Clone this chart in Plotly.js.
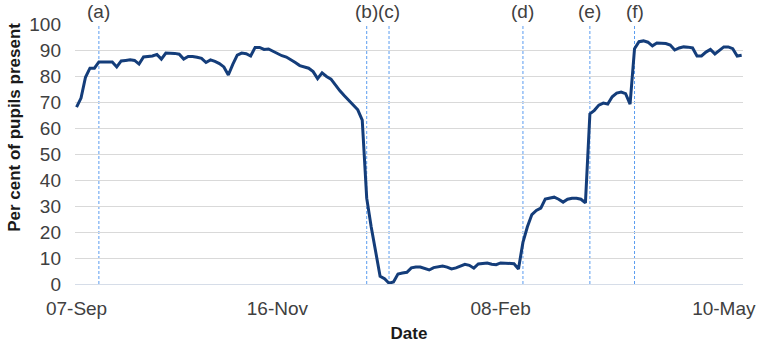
<!DOCTYPE html>
<html>
<head>
<meta charset="utf-8">
<script src="https://cdn.plot.ly/plotly-3.0.1.min.js"></script>
<style>html,body{margin:0;padding:0;background:#fff;}#chart{width:765px;height:348px;}</style>
</head>
<body>
<div id="chart"></div>
<script>
// Per cent of pupils present, one value per school day (index 0 = 07-Sep)
const attendance = [
  68, 71.5, 79.5, 83, 83, 85.4, 85.4, 85.4, 85.4, 83.5,
  85.8, 86, 86.2, 86, 84.6, 87.3, 87.5, 87.7, 88.3, 86.5,
  88.8, 88.8, 88.7, 88.4, 86.5, 87.5, 87.5, 87.2, 86.8, 85.2,
  86.2, 85.6, 84.8, 83.5, 80.4, 84.5, 88, 88.8, 88.6, 87.7,
  91, 91, 90.2, 90.4, 89.5, 88.5, 87.8, 87.3, 86.4, 85.2,
  84, 83.4, 83, 81.7, 79, 81.2, 79.8, 78.8, 76.5, 74.3,
  72.4, 70.5, 69, 67, 63, 33, 22, 12, 3, 2,
  0.3, 0.8, 3.8, 4.2, 4.5, 6.2, 6.5, 6.5, 6, 5.4,
  6.3, 6.7, 6.9, 6.5, 5.8, 6.2, 7, 7.6, 7.2, 6.1,
  7.7, 7.9, 8.1, 7.6, 7.4, 8.1, 8, 8.1, 7.8, 5.8,
  16, 22, 26.7, 28.3, 29.2, 32.7, 33, 33.4, 32.6, 31.5,
  32.6, 33, 33, 32.6, 31.2, 65.4, 66.8, 68.8, 69.6, 69.2,
  72, 73.4, 73.8, 73.2, 69.2, 90.5, 93.2, 93.5, 93, 91.6,
  92.7, 92.7, 92.5, 91.9, 90, 90.8, 91.2, 91.1, 90.8, 87.7,
  87.7, 89.2, 90.2, 88.5, 90, 91.2, 91.2, 90.5, 87.7, 88
];
const tickIndex = [0, 45, 95, 145];
const tickLabels = ['07-Sep', '16-Nov', '08-Feb', '10-May'];
const eventIndex = [5, 65, 70, 100, 115, 125];
const eventLabels = ['(a)', '(b)', '(c)', '(d)', '(e)', '(f)'];

const dayIndex = attendance.map((v, i) => i);

const font = 'Liberation Sans, Arial, sans-serif';
const shapes = eventIndex.map(x => ({
  type: 'line', xref: 'x', yref: 'y', x0: x, x1: x, y0: 0, y1: 100,
  line: {color: '#5a9cf0', width: 1, dash: '3px,2px'}, layer: 'below'
}));
const annotations = eventIndex.map((x, i) => ({
  x: x, y: 1, xref: 'x', yref: 'paper', yanchor: 'bottom', yshift: 0,
  text: eventLabels[i], showarrow: false,
  font: {family: font, size: 19, color: '#404040'}
}));
annotations.push({
  x: -0.09, y: 0.604, xref: 'paper', yref: 'paper', xanchor: 'center', yanchor: 'middle',
  text: '<b>Per cent of pupils present</b>', textangle: -90, showarrow: false,
  font: {family: font, size: 17, color: '#1a1a1a'}
});

Plotly.newPlot('chart', [{
  x: dayIndex, y: attendance, type: 'scatter', mode: 'lines',
  line: {color: '#143d7a', width: 3}, hoverinfo: 'skip'
}], {
  width: 765, height: 348,
  margin: {l: 75, r: 22, t: 24, b: 64},
  paper_bgcolor: '#ffffff', plot_bgcolor: '#ffffff',
  showlegend: false,
  xaxis: {
    range: [-0.35, 149.3], tickmode: 'array', tickvals: tickIndex, ticktext: tickLabels,
    showgrid: false, zeroline: false, showline: true, linecolor: '#d6dde8', linewidth: 1,
    ticks: '', ticklabelstandoff: 7, tickfont: {family: font, size: 19, color: '#404040'},
    title: {text: '<b>Date</b>', font: {family: font, size: 17, color: '#1a1a1a'}, standoff: 9}
  },
  yaxis: {
    range: [0, 100], tickmode: 'linear', tick0: 0, dtick: 10,
    showgrid: true, gridcolor: '#d9d9d9', gridwidth: 1, zeroline: false, showline: false,
    ticks: '', ticklabelstandoff: 13, tickfont: {family: font, size: 19, color: '#404040'}
  },
  shapes: shapes,
  annotations: annotations
}, {staticPlot: true});
</script>
</body>
</html>
